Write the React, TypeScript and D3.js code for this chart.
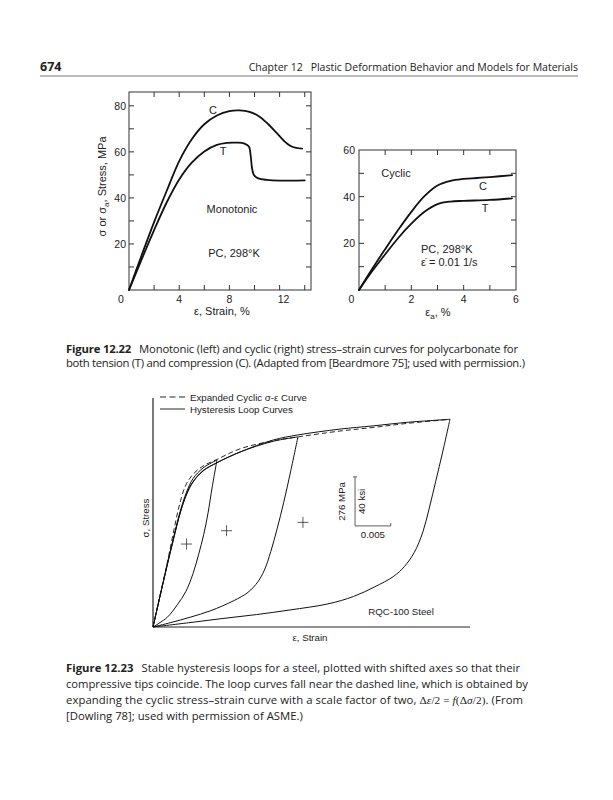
import * as d3 from "d3";

type Pt = [number, number];

// Figure 12.22, left: monotonic, strain %, stress MPa
const monoC: Pt[] = [[0, 0], [1, 15], [2, 29.5], [3, 43], [4, 56], [5, 65.5], [6, 72], [7, 75.8], [8, 77.7], [8.8, 78], [9.6, 77.4], [10.4, 75.3], [11.1, 72], [11.8, 68], [12.4, 64.5], [13, 62.2], [13.8, 61.4]];
const monoT: Pt[] = [[0, 0], [1, 13.2], [2, 26], [3, 38], [4, 48], [5, 55.3], [6, 60.2], [7, 63], [7.8, 63.9], [8.6, 64], [9.2, 63.6], [9.55, 62.3], [9.7, 58], [9.8, 53], [9.95, 50], [10.3, 48.5], [11, 47.8], [12, 47.5], [13, 47.5], [14, 47.6]];
// Figure 12.22, right: cyclic
const cycC: Pt[] = [[0, 0], [0.5, 9], [1, 17.5], [1.5, 25.8], [2, 33.5], [2.5, 40.2], [3, 44.8], [3.5, 46.8], [4, 47.6], [4.5, 48], [5, 48.4], [5.85, 49.2]];
const cycT: Pt[] = [[0, 0], [0.5, 8], [1, 15.3], [1.5, 22.3], [2, 28.4], [2.5, 33.5], [3, 36.8], [3.5, 37.9], [4, 38.2], [5, 38.6], [5.85, 39.3]];
const leftXTicks = [4, 8, 12];
const leftYTicks = [20, 40, 60, 80];
const rightXTicks = [2, 4, 6];
const rightYTicks = [20, 40, 60];

// Figure 12.23: strain (x 10^-3) and stress (MPa) from the compressive tip
const expanded: Pt[] = [[0, 0], [1, 182], [2, 362], [2.8, 520], [3.6, 670], [4.5, 790], [5.5, 855], [7, 906], [9, 944], [12.2, 1003], [16.8, 1048], [20.3, 1070], [26.2, 1103], [30.8, 1123], [35.6, 1146], [41.6, 1169]];
const loop1Up: Pt[] = [[0, 0], [1, 178], [2, 355], [2.9, 508], [3.8, 650], [4.7, 760], [5.6, 835], [7, 895], [8.96, 940]];
const loop1Down: Pt[] = [[8.96, 940], [8.3, 790], [7.7, 640], [7.1, 520], [6.4, 410], [5.6, 300], [4.6, 200], [3.4, 125], [2, 55], [0, 0]];
const loop2Up: Pt[] = [[0, 0], [1, 176], [2, 350], [2.9, 500], [3.8, 642], [4.7, 750], [5.6, 818], [7, 880], [9, 926], [12.2, 985], [16.8, 1045], [20.3, 1070]];
const loop2Down: Pt[] = [[20.3, 1070], [19.3, 880], [18.3, 700], [17.4, 555], [16.5, 425], [15.6, 320], [14.7, 255], [13.3, 195], [11.3, 148], [8.1, 92], [5.2, 55], [2.5, 25], [0, 0]];
const loop3Up: Pt[] = [[0, 0], [1, 176], [2, 350], [2.9, 500], [3.8, 640], [4.7, 745], [5.6, 815], [7, 878], [9, 925], [12.2, 985], [16.8, 1052], [20.3, 1081], [26.2, 1114], [30.8, 1132], [35.6, 1152], [41.6, 1169]];
const loop3Down: Pt[] = [[41.6, 1169], [40.6, 990], [39.6, 820], [38.7, 670], [37.8, 535], [36.6, 420], [35.2, 340], [33.7, 285], [31, 225], [28.1, 172], [24.5, 130], [19.2, 96], [14.5, 70], [9.8, 48], [5, 24], [0, 0]];
const loopCenters: Pt[] = [[4.7, 467], [10.3, 542], [21.0, 589]];
const scaleBarMPa = 276;
const scaleBarStrain = 5;

const SANS = "'Liberation Sans', Arial, sans-serif";
const BOOK = "'Open Sans', 'Noto Sans', sans-serif";

function curvePath(data: Pt[], x: d3.ScaleLinear<number, number>, y: d3.ScaleLinear<number, number>) {
  return d3
    .line<Pt>()
    .x((d) => x(d[0]))
    .y((d) => y(d[1]))
    .curve(d3.curveCatmullRom.alpha(0.5))(data) ?? "";
}

function Frame({ x, y, xMinor, yMinor }: { x: d3.ScaleLinear<number, number>; y: d3.ScaleLinear<number, number>; xMinor: number[]; yMinor: number[] }) {
  const [x0, x1] = x.range();
  const [y0, y1] = y.range();
  const t = 5;
  return (
    <g stroke="#333" strokeWidth={1} fill="none">
      <rect x={x0} y={y1} width={x1 - x0} height={y0 - y1} />
      {xMinor.map((v) => (
        <g key={"x" + v}>
          <line x1={x(v)} x2={x(v)} y1={y0} y2={y0 - t} />
          <line x1={x(v)} x2={x(v)} y1={y1} y2={y1 + t} />
        </g>
      ))}
      {yMinor.map((v) => (
        <g key={"y" + v}>
          <line x1={x0} x2={x0 + t} y1={y(v)} y2={y(v)} />
          <line x1={x1} x2={x1 - t} y1={y(v)} y2={y(v)} />
        </g>
      ))}
    </g>
  );
}

function Fig1222() {
  const xl = d3.scaleLinear().domain([0, 14.5]).range([129, 311]);
  const yl = d3.scaleLinear().domain([0, 86]).range([290, 92]);
  const xr = d3.scaleLinear().domain([0, 6]).range([359, 516]);
  const yr = d3.scaleLinear().domain([0, 60]).range([290, 150]);
  return (
    <g fontFamily={SANS} fontSize={10.5} fill="#222">
      <Frame x={xl} y={yl} xMinor={d3.range(2, 14.1, 2)} yMinor={d3.range(10, 81, 10)} />
      <Frame x={xr} y={yr} xMinor={d3.range(1, 5.1, 1)} yMinor={d3.range(10, 51, 10)} />
      <g fill="none" stroke="#111" strokeWidth={1.8} strokeLinecap="round">
        <path d={curvePath(monoC, xl, yl)} />
        <path d={curvePath(monoT, xl, yl)} />
        <path d={curvePath(cycC, xr, yr)} />
        <path d={curvePath(cycT, xr, yr)} />
      </g>
      {leftYTicks.map((v) => (
        <text key={v} x={126} y={yl(v) + 4} textAnchor="end">{v}</text>
      ))}
      <text x={121} y={303} textAnchor="middle">0</text>
      {leftXTicks.map((v) => (
        <text key={v} x={xl(v) + (v === 12 ? 4 : 0)} y={303} textAnchor="middle">{v}</text>
      ))}
      {rightYTicks.map((v) => (
        <text key={v} x={355} y={yr(v) + 4} textAnchor="end">{v}</text>
      ))}
      <text x={351.5} y={303} textAnchor="middle">0</text>
      {rightXTicks.map((v) => (
        <text key={v} x={xr(v)} y={303} textAnchor="middle">{v}</text>
      ))}
      <g fontSize={11}>
        <text x={xl(7.4)} y={314.5} textAnchor="middle">ε, Strain, %</text>
        <text transform={`translate(106,${yl(45)}) rotate(-90)`} textAnchor="middle">
          σ or σ<tspan fontSize={8} dy={2.5}>a</tspan><tspan dy={-2.5}>, Stress, MPa</tspan>
        </text>
        <text x={438} y={316} textAnchor="middle">
          ε<tspan fontSize={8} dy={2.5}>a</tspan><tspan dy={-2.5}>, %</tspan>
        </text>
        <text x={213} y={114} textAnchor="middle">C</text>
        <text x={223} y={155} textAnchor="middle">T</text>
        <text x={232} y={213} textAnchor="middle">Monotonic</text>
        <text x={234} y={257} textAnchor="middle">PC, 298°K</text>
        <text x={396} y={177} textAnchor="middle">Cyclic</text>
        <text x={483} y={190} textAnchor="middle">C</text>
        <text x={485} y={212} textAnchor="middle">T</text>
        <text x={421} y={253}>PC, 298°K</text>
        <text x={421} y={266}>ε̇ = 0.01 1/s</text>
      </g>
    </g>
  );
}

function Fig1223() {
  const x = d3.scaleLinear().domain([0, 44.4]).range([153, 470]);
  const y = d3.scaleLinear().domain([0, 1289]).range([627, 398]);
  const loops = [loop1Up, loop1Down, loop2Up, loop2Down, loop3Up, loop3Down];
  const bx = 28.3;
  const by = 569;
  return (
    <g fontFamily={SANS} fontSize={9.7} fill="#222">
      <g stroke="#222" strokeWidth={1.2}>
        <line x1={x(0)} x2={x(0)} y1={y(0)} y2={y.range()[1]} />
        <line x1={x(0)} x2={x.range()[1]} y1={y(0)} y2={y(0)} />
      </g>
      <g fill="none" stroke="#111" strokeWidth={1}>
        {loops.map((d, i) => (
          <path key={i} d={curvePath(d, x, y)} />
        ))}
      </g>
      <path d={curvePath(expanded, x, y)} fill="none" stroke="#111" strokeWidth={0.9} strokeDasharray="5 3" />
      <g stroke="#333" strokeWidth={0.8}>
        {loopCenters.map(([cx, cy], i) => (
          <g key={i}>
            <line x1={x(cx) - 5.5} x2={x(cx) + 5.5} y1={y(cy)} y2={y(cy)} />
            <line x1={x(cx)} x2={x(cx)} y1={y(cy) - 5.5} y2={y(cy) + 5.5} />
          </g>
        ))}
        <line x1={x(bx)} x2={x(bx)} y1={y(by)} y2={y(by + scaleBarMPa)} />
        <line x1={x(bx) - 2} x2={x(bx) + 2} y1={y(by + scaleBarMPa)} y2={y(by + scaleBarMPa)} />
        <line x1={x(bx)} x2={x(bx + scaleBarStrain)} y1={y(by)} y2={y(by)} />
        <line x1={x(bx + scaleBarStrain)} x2={x(bx + scaleBarStrain)} y1={y(by)} y2={y(by) - 3} />
      </g>
      <text transform={`translate(${x(bx) - 10},${y(by + scaleBarMPa / 2)}) rotate(-90)`} textAnchor="middle">276 MPa</text>
      <text transform={`translate(${x(bx) + 10},${y(by + scaleBarMPa / 2)}) rotate(-90)`} textAnchor="middle">40 ksi</text>
      <text x={x(bx + scaleBarStrain / 2)} y={y(by) + 12.5} textAnchor="middle">0.005</text>
      <text x={401} y={615} textAnchor="middle">RQC-100 Steel</text>
      <text x={310} y={641} textAnchor="middle">ε, Strain</text>
      <text transform={`translate(149,518) rotate(-90)`} textAnchor="middle">σ, Stress</text>
      <line x1={160} x2={185} y1={397} y2={397} stroke="#111" strokeWidth={0.9} strokeDasharray="6 3.5" />
      <line x1={160} x2={185} y1={409} y2={409} stroke="#111" strokeWidth={0.9} />
      <text x={190} y={400.5}>Expanded Cyclic σ-ε Curve</text>
      <text x={190} y={412.5}>Hysteresis Loop Curves</text>
    </g>
  );
}

export default function App() {
  return (
    <svg width={613} height={800} style={{ position: "absolute", left: 0, top: 0, background: "#fff" }}>
      <rect width={613} height={800} fill="#fff" />
      <text x={40} y={71} fontFamily={BOOK} fontSize={12.5} fontWeight="bold" fill="#222">674</text>
      <text x={578} y={71} fontFamily={BOOK} fontSize={10.5} textAnchor="end" fill="#222">
        Chapter 12<tspan dx={8}>Plastic Deformation Behavior and Models for Materials</tspan>
      </text>
      <line x1={40} x2={578} y1={76} y2={76} stroke="#777" strokeWidth={1} />
      <Fig1222 />
      <g fontFamily={BOOK} fontSize={11.3} fill="#222">
        <text x={66} y={353} textLength={452} lengthAdjust="spacing">
          <tspan fontWeight="bold">Figure 12.22</tspan>
          <tspan dx={8}>Monotonic (left) and cyclic (right) stress–strain curves for polycarbonate for</tspan>
        </text>
        <text x={66} y={366.5} textLength={459} lengthAdjust="spacing">
          both tension (T) and compression (C). (Adapted from [Beardmore 75]; used with permission.)
        </text>
      </g>
      <Fig1223 />
      <g fontFamily={BOOK} fontSize={11.3} fill="#222">
        <text x={66} y={672} textLength={454} lengthAdjust="spacing">
          <tspan fontWeight="bold">Figure 12.23</tspan>
          <tspan dx={8}>Stable hysteresis loops for a steel, plotted with shifted axes so that their</tspan>
        </text>
        <text x={66} y={688} textLength={462} lengthAdjust="spacing">
          compressive tips coincide. The loop curves fall near the dashed line, which is obtained by
        </text>
        <text x={66} y={704} textLength={457} lengthAdjust="spacing">
          expanding the cyclic stress–strain curve with a scale factor of two,
          <tspan fontFamily="'Liberation Serif', serif" dx={3}>Δ<tspan fontStyle="italic">ε</tspan>/2 = <tspan fontStyle="italic">f</tspan>(Δ<tspan fontStyle="italic">σ</tspan>/2)</tspan>. (From
        </text>
        <text x={66} y={720}>[Dowling 78]; used with permission of ASME.)</text>
      </g>
    </svg>
  );
}
